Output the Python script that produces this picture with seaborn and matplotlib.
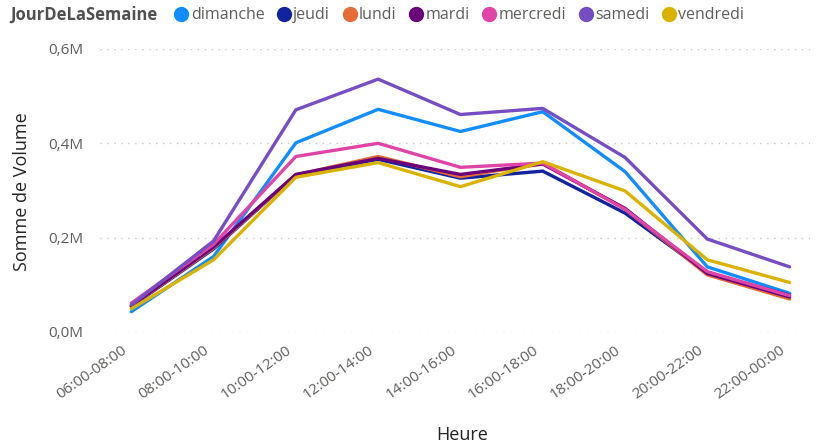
#!/usr/bin/env python3
"""Somme de Volume par tranche horaire et jour de la semaine."""
import pandas as pd
import seaborn as sns
import matplotlib.pyplot as plt
import matplotlib.transforms as mtransforms
from matplotlib.lines import Line2D
from matplotlib.ticker import FuncFormatter

heures = ["06:00-08:00", "08:00-10:00", "10:00-12:00", "12:00-14:00", "14:00-16:00",
          "16:00-18:00", "18:00-20:00", "20:00-22:00", "22:00-00:00"]
jours = ["dimanche", "jeudi", "lundi", "mardi", "mercredi", "samedi", "vendredi"]

# values in millions
dimanche = [0.043, 0.160, 0.401, 0.472, 0.425, 0.467, 0.340, 0.138, 0.082]
jeudi = [0.054, 0.176, 0.333, 0.366, 0.326, 0.341, 0.252, 0.125, 0.078]
lundi = [0.055, 0.178, 0.333, 0.372, 0.329, 0.358, 0.261, 0.121, 0.070]
mardi = [0.056, 0.180, 0.334, 0.368, 0.334, 0.356, 0.262, 0.124, 0.074]
mercredi = [0.061, 0.186, 0.372, 0.400, 0.349, 0.358, 0.260, 0.128, 0.077]
samedi = [0.057, 0.193, 0.471, 0.536, 0.461, 0.474, 0.370, 0.197, 0.138]
vendredi = [0.049, 0.153, 0.328, 0.359, 0.308, 0.361, 0.299, 0.153, 0.105]

couleurs = ["#118DFF", "#12239E", "#E66C37", "#6B007B", "#E044A7", "#744EC2", "#D9B300"]

series = [dimanche, jeudi, lundi, mardi, mercredi, samedi, vendredi]
rows = []
for jour, vals in zip(jours, series):
    for h, v in zip(heures, vals):
        rows.append({"Heure": h, "JourDeLaSemaine": jour, "Volume": v * 1e6})
df = pd.DataFrame(rows)

sns.set_theme(style="white")
plt.rcParams["font.family"] = ["Open Sans", "DejaVu Sans"]

fig = plt.figure(figsize=(8.2, 4.45), dpi=100)
ax = fig.add_axes([0.122, 0.254, 0.866, 0.636])

palette = dict(zip(jours, couleurs))
sns.lineplot(data=df, x="Heure", y="Volume", hue="JourDeLaSemaine",
             hue_order=jours, palette=palette, linewidth=2.4, sort=False,
             legend=False, ax=ax)

ax.set_ylim(0, 6e5)
ax.set_yticks([0, 2e5, 4e5, 6e5])
ax.yaxis.set_major_formatter(FuncFormatter(lambda v, p: f"{v / 1e6:.1f}M".replace(".", ",")))
ax.set_xlim(-0.38, 8.25)
ax.grid(axis="y", linestyle=(0, (1, 4)), color="#C8C8C8", linewidth=1)
for s in ax.spines.values():
    s.set_visible(False)

ax.tick_params(axis="both", length=0, labelsize=11, labelcolor="#605E5C")
ax.tick_params(axis="y", pad=12)
ax.tick_params(axis="x", pad=8)
# shift the rotated labels a little to the left, like the reference
shift = mtransforms.ScaledTranslation(-10 / 100, 0, fig.dpi_scale_trans)
for lab in ax.get_xticklabels():
    lab.set_rotation(35)
    lab.set_ha("right")
    lab.set_rotation_mode("anchor")
    lab.set_transform(lab.get_transform() + shift)

ax.set_xlabel("Heure", fontsize=13, color="#252423")
ax.set_ylabel("Somme de Volume", fontsize=13, color="#252423")
ax.xaxis.set_label_coords(0.51, -0.333)
ax.yaxis.set_label_coords(-0.097, 0.495)

fig.text(0.012, 0.966, "JourDeLaSemaine", fontsize=12, fontweight="bold",
         color="#505050", va="center")
handles = [Line2D([], [], marker="o", linestyle="", markersize=10, color=c) for c in couleurs]
leg = fig.legend(handles, jours, loc="center left", bbox_to_anchor=(0.214, 0.966),
                 ncol=7, frameon=False, fontsize=11.5, handlelength=0.7,
                 handletextpad=0.25, columnspacing=0.86, borderaxespad=0, borderpad=0)
for t in leg.get_texts():
    t.set_color("#605E5C")

fig.savefig("out.png", dpi=100)
